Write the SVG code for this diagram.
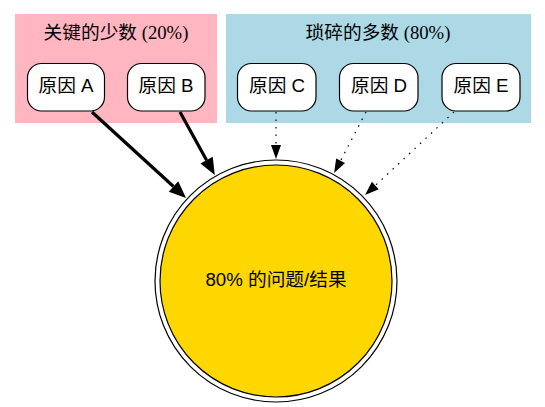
<svg xmlns="http://www.w3.org/2000/svg" width="545" height="407" viewBox="0 0 545 407">
<style>
.node rect{fill:#fff;stroke:#000;stroke-width:1.2}
.lbl{font-family:"Liberation Sans","Noto Sans CJK SC",sans-serif;font-size:18.7px;text-anchor:middle;fill:#000}
.ttl{font-family:"Liberation Serif","Noto Sans CJK SC",serif;font-size:18.7px;text-anchor:middle;fill:#000}
.bold{stroke:#000;stroke-width:3.2;fill:none}
.dot{stroke:#000;stroke-width:1.2;fill:none;stroke-dasharray:1.5,6}
</style>
<defs>
<marker id="hb" markerUnits="userSpaceOnUse" markerWidth="20" markerHeight="18" viewBox="0 -9 20 18" refX="0" refY="0" orient="auto" overflow="visible">
<path d="M0,-7 L17,0 L0,7 z" fill="#000"/>
</marker>
<marker id="ht" markerUnits="userSpaceOnUse" markerWidth="16" markerHeight="12" viewBox="0 -6 16 12" refX="0" refY="0" orient="auto" overflow="visible">
<path d="M0,-5 L14,0 L0,5 z" fill="#000"/>
</marker>
</defs>
<rect width="545" height="407" fill="#fff"/>
<g id="cluster_vital">
<rect x="15" y="14" width="202" height="109" fill="#FFB6C1"/>
<text class="ttl" x="116" y="39">关键的少数 (20%)</text>
</g>
<g id="cluster_trivial">
<rect x="226" y="14" width="305" height="109" fill="#ADD8E6"/>
<text class="ttl" x="378" y="39">琐碎的多数 (80%)</text>
</g>
<g id="A" class="node"><rect x="27.5" y="63.5" width="77" height="47.5" rx="14"/><text class="lbl" x="66" y="92">原因 A</text></g>
<g id="B" class="node"><rect x="127.5" y="63.5" width="77.5" height="47.5" rx="14"/><text class="lbl" x="166" y="92">原因 B</text></g>
<g id="C" class="node"><rect x="237.5" y="63.5" width="78.5" height="47.5" rx="14"/><text class="lbl" x="277" y="92">原因 C</text></g>
<g id="D" class="node"><rect x="339.5" y="63.5" width="78.5" height="47.5" rx="14"/><text class="lbl" x="379" y="92">原因 D</text></g>
<g id="E" class="node"><rect x="442" y="63.5" width="78" height="47.5" rx="14"/><text class="lbl" x="481" y="92">原因 E</text></g>
<g id="result">
<circle cx="276" cy="281" r="121" fill="none" stroke="#000" stroke-width="1.2"/>
<circle cx="276" cy="281" r="116" fill="#FFD700" stroke="#000" stroke-width="1.2"/>
<text class="lbl" x="276" y="285.5">80% 的问题/结果</text>
</g>
<g id="edges">
<path class="bold" d="M92,112 L173.5,186.5" marker-end="url(#hb)"/>
<path class="bold" d="M180,112 L206.6,160.2" marker-end="url(#hb)"/>
<path class="dot" d="M276,112 L276,145" marker-end="url(#ht)"/>
<path class="dot" d="M366,112 L340.6,160.7" marker-end="url(#ht)"/>
<path class="dot" d="M454,112 L375.3,185.5" marker-end="url(#ht)"/>
</g>
</svg>
